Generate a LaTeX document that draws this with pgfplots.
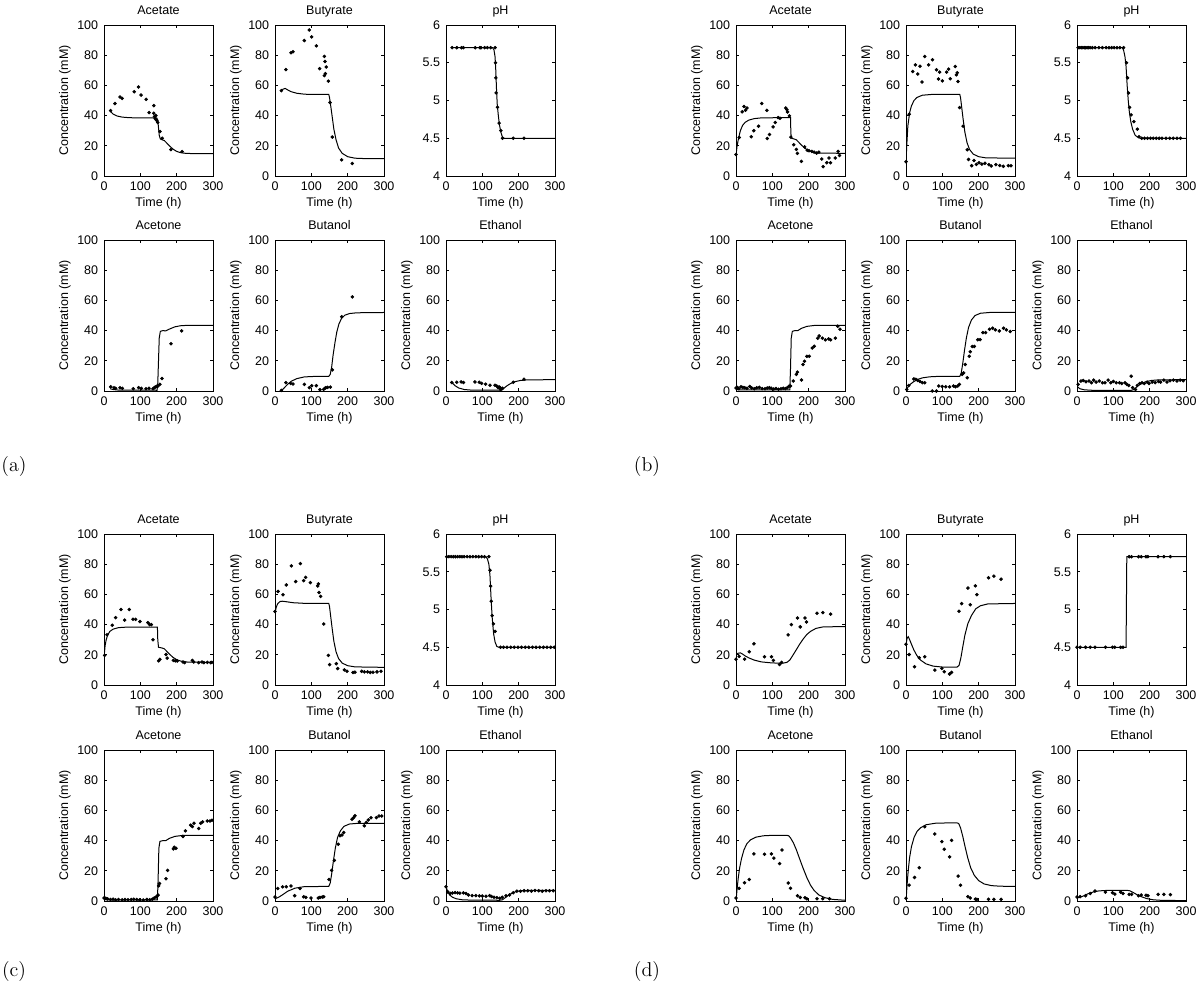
\documentclass[border=0pt]{standalone}
\usepackage{fontspec}
\usepackage{pgfplots}
\pgfplotsset{compat=1.18}
\newfontfamily\helv{Liberation Sans}
\newcommand{\lab}{\helv\fontsize{7.5}{9}\selectfont}

\pgfplotsset{
  panel/.style={scale only axis, width=65.4pt, height=90.6pt, anchor=south west,
    xmin=0, xmax=300, ymin=0, ymax=100,
    xtick={0,100,200,300}, ytick={0,20,40,60,80,100},
    tick align=inside, tick pos=both, major tick length=2pt,
    axis line style={line width=0.5pt}, tick style={line width=0.4pt, black},
    /pgf/number format/assume math mode=true,
    every tick label/.append style={font=\lab},
    title style={font=\lab, anchor=base, yshift=0.5pt, inner sep=0pt},
    label style={font=\lab},
    xlabel={Time (h)}, xlabel style={yshift=3pt},
    ylabel style={yshift=-3pt}},
  conc/.style={ylabel={Concentration (mM)}},
  ph/.style={ymin=4, ymax=6, ytick={4,4.5,5,5.5,6}},
  pos/.style 2 args={at={({#1*0.6pt},{-#2*0.6pt})}},
  model/.style={black, line width=0.6pt, no markers},
  data/.style={black, only marks, mark=*, mark size=0.85pt},
}

\begin{document}
\begin{tikzpicture}
\useasboundingbox (0,0) rectangle (720pt,-597pt);

% ---------------- (a) ----------------
\begin{axis}[panel, conc, pos={104}{176}, title={Acetate}]
\addplot[model] coordinates {(17,43) (25,41) (35,39.8) (50,39) (70,38.6) (100,38.5) (145,38.5) (148,37) (150,32) (152,27) (155,24.5) (160,24) (166,23.5) (172,22) (180,20) (190,17.8) (200,16.3) (210,15.5) (225,15) (250,14.8) (300,14.8)};
\addplot[data] coordinates {(18,43.3) (30,48) (44,52.3) (50,51.4) (83,55.8) (95,58.9) (102,53.6) (116,50.8) (124,42) (137,46.6) (137,41.6) (139,39.4) (141,38) (143,40) (145,36.8) (148,35.4) (154,29.5) (160,25) (184,17.5) (215,16.2)};
\end{axis}
\begin{axis}[panel, conc, pos={275}{176}, title={Butyrate}]
\addplot[model] coordinates {(17,56) (22,57.5) (28,58) (35,57) (45,55.8) (60,54.8) (80,54.2) (100,54) (148,54) (150,52) (153,47) (157,40) (162,31) (168,24) (175,18.5) (185,15) (200,12.8) (220,11.8) (250,11.5) (300,11.5)};
\addplot[data] coordinates {(17.4,56.5) (30,70.5) (44,81.6) (49.5,82.3) (80.7,89.7) (94.5,96.7) (100.9,92.1) (113.8,86.2) (123,71.1) (135.8,79.2) (137.6,75.9) (141,72.2) (138.5,67.8) (135.8,66.5) (146.8,62.8) (151.4,48.6) (157.8,25.8) (183.5,10.7) (212.8,8.3)};
\end{axis}
\begin{axis}[panel, ph, pos={446}{176}, title={pH}]
\addplot[model] coordinates {(17,5.7) (128,5.7) (132,5.67) (135,5.58) (137,5.4) (139,5.15) (141,4.95) (144,4.8) (147,4.68) (151,4.58) (155,4.52) (160,4.5) (300,4.5)};
\addplot[data] coordinates {(16.7,5.7) (29.6,5.7) (42.6,5.7) (48,5.7) (80.5,5.7) (93.5,5.7) (96.3,5.7) (106.5,5.7) (113.9,5.7) (123,5.7) (135,5.7) (136,5.5) (137,5.3) (138,5.1) (141.7,4.91) (146.3,4.7) (151,4.6) (155.6,4.5) (185,4.5) (214.8,4.5)};
\end{axis}
\begin{axis}[panel, conc, pos={104}{391}, title={Acetone}]
\addplot[model] coordinates {(17,1.5) (25,1) (40,0.6) (146,0.5) (148,5) (150,20) (152,35) (155,39.5) (162,40) (170,39.8) (180,41) (195,42.5) (210,43.2) (230,43.5) (300,43.5)};
\addplot[data] coordinates {(18.3,2.8) (27.5,2.2) (32,1.8) (44,2.2) (50.5,1.8) (80.7,1.5) (95.4,2.2) (102.8,1.8) (115.6,1.5) (124,1.8) (135,1.5) (138.5,2.2) (141,2.6) (145,3.1) (148.6,3.3) (154,4.4) (159.6,8.3) (184.4,31.3) (213.8,39.8)};
\end{axis}
\begin{axis}[panel, conc, pos={275}{391}, title={Butanol}]
\addplot[model] coordinates {(17,0) (25,2) (35,4.5) (45,6.5) (60,8.2) (80,9.3) (100,9.6) (148,9.7) (152,11) (156,16) (160,24) (165,32) (170,39) (176,44.5) (183,48) (192,50.2) (205,51.3) (225,51.8) (300,52)};
\addplot[data] coordinates {(17.4,0.4) (30,5.5) (43,5) (49.5,4.6) (80.7,4.4) (94.5,2.2) (100.9,3.5) (113.8,3.5) (123.8,0.9) (134,1.1) (137.6,1.8) (140,2.2) (144.8,2.4) (152.2,2.6) (157.8,14) (183.5,49.2) (212.8,62.3)};
\end{axis}
\begin{axis}[panel, conc, pos={446}{391}, title={Ethanol}]
\addplot[model] coordinates {(17,5.5) (25,3.5) (35,2) (50,1) (70,0.6) (150,0.5) (155,0.8) (160,2) (168,3.5) (178,5) (190,6.2) (205,7) (225,7.4) (300,7.5)};
\addplot[data] coordinates {(16,5.6) (29.6,5.8) (41.7,6) (48,5.6) (79.6,6) (91.7,5.8) (98,5.1) (109,4.5) (121,3.8) (135,3.8) (139.8,3.3) (143.5,2.2) (146,2.7) (149,2.2) (151,1.1) (155.6,1.8) (185,5.8) (214.8,7.8)};
\end{axis}

% ---------------- (b) ----------------
\begin{axis}[panel, conc, pos={736}{176}, title={Acetate}]
\addplot[model] coordinates {(0,14) (3,20) (7,25) (12,30) (18,33.5) (25,35.5) (35,37) (50,38) (70,38.5) (150,38.7) (151,28) (153,25) (160,24.5) (166,24) (172,22.5) (180,20.5) (190,18.3) (200,16.8) (212,15.8) (230,15.2) (300,15)};
\addplot[data] coordinates {(0,14.3) (8.6,25.5) (17,42.5) (22,46) (26,43.5) (30,45) (42,26) (49,30) (62,33) (71,48) (85,43.5) (86,24.8) (92,27.5) (102,32.5) (108,35.4) (116,38.7) (121,38.2) (137,45) (140,44) (142,42.4) (147,39.8) (151,25.7) (159,20.7) (166,17.6) (169,15) (180,9.7) (189,19.3) (196,17.1) (201,16.7) (209,16.3) (215,15.8) (222,15.2) (228,15.8) (236,11.2) (240,6.2) (250,8.8) (256,11.9) (260,8.8) (273,11.9) (281,16.3) (285,13.6)};
\end{axis}
\begin{axis}[panel, conc, pos={906}{176}, title={Butyrate}]
\addplot[model] coordinates {(0,9) (2,20) (5,33) (10,42) (15,46.5) (22,50) (30,52) (45,53.5) (70,54) (148,54) (150,52) (153,46) (157,38) (162,29) (168,22) (175,17.5) (185,14.5) (200,12.8) (220,12) (300,11.8)};
\addplot[data] coordinates {(0,9.5) (8.6,40.9) (18.3,69.2) (25.8,73.6) (32.3,67.5) (38.7,72.7) (44,62.2) (51.6,79.1) (62.4,73.6) (73,77) (83.9,70.3) (89.3,64.2) (92.5,68.8) (100,63) (111.8,68.8) (117.2,70.8) (121.5,64.4) (135.5,72.5) (138.7,67) (141,68.4) (143,62.6) (147.3,45.3) (157,33) (168.8,17.4) (172,11) (180.6,6.8) (187,10.3) (193.5,7.7) (201,8.8) (208.6,7.9) (217.2,8.4) (228,7.5) (234.4,6.6) (247.3,7.5) (258,7) (267.7,6.4) (281.7,6.8) (289,6.8)};
\end{axis}
\begin{axis}[panel, ph, pos={1077}{176}, title={pH}]
\addplot[model] coordinates {(0,5.7) (124,5.7) (128,5.67) (132,5.58) (135,5.45) (138,5.2) (141,5.0) (144,4.85) (148,4.72) (153,4.62) (160,4.54) (168,4.51) (175,4.5) (300,4.5)};
\addplot[data] coordinates {(3,5.7) (8,5.7) (12,5.7) (16,5.7) (20,5.7) (24,5.7) (28,5.7) (32,5.7) (36,5.7) (42,5.7) (50,5.7) (60,5.7) (70,5.7) (80,5.7) (88,5.7) (95,5.7) (102,5.7) (110,5.7) (118,5.7) (128,5.7) (136,5.5) (139,5.3) (141.5,5.1) (144.7,4.91) (149,4.81) (156.5,4.72) (166,4.62) (170.4,4.52) (178,4.5) (186,4.5) (194,4.5) (202,4.5) (210,4.5) (218,4.5) (226,4.5) (234,4.5) (245,4.5) (255,4.5) (265,4.5) (275,4.5) (285,4.5)};
\end{axis}
\begin{axis}[panel, conc, pos={736}{391}, title={Acetone}]
\addplot[model] coordinates {(0,1) (10,0.7) (148,0.7) (150,15) (152,35) (155,39.5) (162,40) (170,40) (180,41.5) (195,42.8) (215,43.4) (300,43.5)};
\addplot[data] coordinates {(0,2) (4,2.3) (8,1.6) (14,2.8) (19,2.4) (24,2.2) (30,1.8) (38,3) (43,2) (50,1.5) (57,2.2) (64,2.4) (72,1.6) (80,1.5) (86,2) (92,2.2) (97,1.8) (104,1.3) (110,1.6) (117,1.2) (124,1.5) (130,1.8) (136,1.6) (141,2.2) (146,3.2) (150,3.3) (157.7,6.6) (166,11) (169,12.5) (180,7.3) (184.4,17.5) (188.6,19.7) (195,23) (201.5,23) (210,28.5) (215.4,29.6) (225,35) (229,36.5) (237.7,35) (246,33.9) (255,34.5) (260.4,33.9) (273.3,35) (279.7,42.9) (286,40.9)};
\end{axis}
\begin{axis}[panel, conc, pos={906}{391}, title={Butanol}]
\addplot[model] coordinates {(0,0) (5,2.5) (12,4.5) (20,6) (30,7.5) (45,8.7) (65,9.4) (90,9.7) (148,9.7) (152,12) (156,18) (161,27) (166,35) (172,42) (180,47) (190,50) (205,51.5) (230,52) (300,52)};
\addplot[data] coordinates {(2,1) (7.5,3.7) (21.4,8) (27,7.7) (32,7) (38.6,6.3) (45,5.5) (51.5,5.5) (72,0) (83.6,0) (90,3.3) (99.7,3) (109.3,2.8) (120,2.8) (130.8,3.3) (136,2.8) (142.5,3.3) (147,4.4) (154.4,11) (158.8,12) (163,17.5) (168.5,8.8) (173.9,23) (177,26) (182.4,29.5) (188,29.5) (197.5,34) (204,34) (211.6,38.7) (219,38.7) (230,40.9) (238.5,41.6) (246,40.5) (256.7,39.8) (268.5,41.6) (276,40.5) (286.6,39.4)};
\end{axis}
\begin{axis}[panel, conc, pos={1077}{391}, title={Ethanol}]
\addplot[model] coordinates {(0,3) (8,1.5) (20,0.8) (40,0.5) (150,0.5) (155,0.8) (160,1.8) (168,3.5) (178,5) (190,6.2) (205,7) (225,7.4) (300,7.5)};
\addplot[data] coordinates {(3,4.4) (10.7,6.6) (17,7) (24.6,6.1) (33,6.6) (39.6,5.5) (46,7.2) (52.5,5.9) (61,6.6) (70,5.5) (77,5.5) (85.7,7.2) (93,5.5) (100,6.3) (108,5.5) (117,5.5) (123,5) (132,5.5) (137,4.4) (142.5,3.7) (149,9.8) (153,2.2) (160.8,1) (166,3.7) (172.6,5) (179,5.5) (185,5) (193,5.9) (198,5) (207,5.9) (215,5.5) (224,6.3) (230,5.9) (239,7.2) (247.6,5.9) (256,6.8) (265,7.2) (275,6.6) (284,7.2) (292.6,6.8)};
\end{axis}

% ---------------- (c) ----------------
\begin{axis}[panel, conc, pos={104}{685}, title={Acetate}]
\addplot[model] coordinates {(0,18) (3,26) (6,30) (10,33) (16,35.5) (25,37) (40,38) (60,38.3) (147,38.3) (148,30) (150,25) (160,24.5) (166,24) (172,22.5) (180,20.5) (190,18.3) (200,16.8) (212,15.8) (230,15.2) (300,15)};
\addplot[data] coordinates {(1.8,19.6) (8.3,33.3) (22.9,39.6) (32,44.6) (46.8,50) (56.9,43) (69.7,50) (79.8,43.5) (87,43.5) (99,42) (121,41.3) (125.7,40) (130.3,40) (134.9,30) (150.5,16) (154,17) (170.6,20.2) (174,17.8) (190.8,16.3) (196.3,16) (201.8,15.9) (217.4,15.2) (222,14.8) (243,16.3) (247,15.2) (260.6,14.8) (269.7,15.2) (275,14.8) (284.4,15) (293.6,14.8) (297,15)};
\end{axis}
\begin{axis}[panel, conc, pos={275}{685}, title={Butyrate}]
\addplot[model] coordinates {(0,48) (4,52) (8,54) (14,55.3) (20,55.5) (30,55.2) (50,54.5) (80,54.1) (148,54) (150,52) (153,46) (157,38) (162,29) (168,22) (175,17.5) (185,14.5) (200,12.8) (220,12) (300,11.7)};
\addplot[data] coordinates {(0,48.7) (8.3,62) (22,59.8) (31,66.3) (45,78.9) (57,68.5) (69.7,80.4) (78.9,69.1) (84.4,71.3) (97.2,67.8) (117.4,65.6) (119.3,67) (121,61.3) (125.7,58.7) (134,40.4) (146.8,19.6) (150.5,13.5) (168.8,14.1) (172.5,10.9) (190.8,10) (198,9.1) (214.7,8.3) (220,8.5) (238.5,9.1) (245.8,8.7) (255,8.7) (262.4,8.3) (269.7,8.5) (280.7,8.7) (291.7,9.1)};
\end{axis}
\begin{axis}[panel, ph, pos={446}{685}, title={pH}]
\addplot[model] coordinates {(0,5.7) (110,5.7) (114,5.67) (118,5.6) (121,5.45) (124,5.15) (127,4.9) (131,4.68) (135,4.57) (140,4.51) (146,4.5) (300,4.5)};
\addplot[data] coordinates {(2,5.7) (8,5.7) (14,5.7) (20,5.7) (26,5.7) (32,5.7) (38,5.7) (44,5.7) (50,5.7) (58,5.7) (66,5.7) (74,5.7) (82,5.7) (90,5.7) (98,5.7) (106,5.7) (118,5.7) (121,5.52) (123,5.31) (124.5,5.11) (127,4.92) (130.5,4.81) (135,4.71) (150,4.5) (158,4.5) (168,4.5) (178,4.5) (188,4.5) (198,4.5) (208,4.5) (218,4.5) (228,4.5) (238,4.5) (248,4.5) (258,4.5) (268,4.5) (278,4.5) (288,4.5) (298,4.5)};
\end{axis}
\begin{axis}[panel, conc, pos={104}{901}, title={Acetone}]
\addplot[model] coordinates {(0,1) (10,0.7) (147,0.7) (149,15) (151,35) (154,39.5) (162,40) (170,40) (180,41.5) (195,42.8) (215,43.4) (300,43.5)};
\addplot[data] coordinates {(0,2) (5,1.8) (10,1.4) (18,1) (25,1.2) (32,0.8) (40,1) (50,0.8) (58,1) (66,0.8) (75,1) (82,1.2) (90,1) (98,0.8) (108,0.6) (118,1) (126,0.8) (133,1.2) (138,2) (144,2.8) (148.6,3.9) (150.5,10) (153,11.6) (170.6,14.8) (175,20.3) (190.8,34.5) (193.6,35.6) (198,34.9) (217.4,42.8) (224,46.5) (238.5,50.2) (243,49.3) (247.7,51.5) (260.6,48) (266,51.5) (271.6,52.4) (284.4,53) (291.7,53) (297,53.5)};
\end{axis}
\begin{axis}[panel, conc, pos={275}{901}, title={Butanol}]
\addplot[model] coordinates {(0,1.5) (10,2.5) (20,4) (35,6.5) (55,8.5) (80,9.5) (148,9.7) (152,12) (156,18) (161,27) (166,35) (172,42) (180,46.5) (190,49.5) (205,51) (230,51.5) (300,51.5)};
\addplot[data] coordinates {(0,2.6) (7.3,8.3) (21,9.4) (31,9.4) (44,10) (54,3.5) (68.8,8.3) (78.9,2.8) (85,2.4) (99,2) (119,2) (123.8,2.4) (130,2.6) (134,2.8) (148.6,14.2) (156,20.3) (163.3,26.9) (174.3,37.6) (178.9,43.2) (184.4,43.7) (189,45.4) (211.9,54.1) (216.5,55.2) (220,56.5) (232,52.4) (245.8,49.8) (251,52) (256.8,53.7) (264.2,55.2) (278.9,55.2) (286,56.3) (293.6,56.3)};
\end{axis}
\begin{axis}[panel, conc, pos={446}{901}, title={Ethanol}]
\addplot[model] coordinates {(0,10) (4,6.5) (10,4) (18,2.5) (28,1.5) (45,0.8) (70,0.6) (148,0.5) (155,0.8) (162,2) (170,3.5) (180,5) (192,6.2) (205,6.8) (230,7) (300,7)};
\addplot[data] coordinates {(0,9.5) (5,6) (12,5) (18,5.3) (25,5.6) (32,5.4) (38,5.2) (48,5.4) (55,5) (62,4) (72,3.6) (82,3.6) (92,3.4) (100,3.3) (110,3.2) (120,3.6) (125,3) (132,2.5) (140,2.2) (148,1.8) (155,2.5) (165,3.5) (175,4) (185,5.5) (195,6.5) (205,6.5) (215,6.8) (225,6.8) (235,6.5) (245,7) (255,6.8) (265,6.5) (275,6.8) (285,6.8) (295,6.8)};
\end{axis}

% ---------------- (d) ----------------
\begin{axis}[panel, conc, pos={736}{685}, title={Acetate}]
\addplot[model] coordinates {(0,20) (5,21) (12,21.3) (18,20.5) (25,19.3) (35,18) (50,16.5) (70,15.3) (100,14.6) (130,14.5) (140,15) (148,16.5) (156,19.5) (165,23) (175,27) (185,30.5) (195,33.5) (205,35.5) (220,37.5) (240,38.5) (300,38.7)};
\addplot[data] coordinates {(0,17.1) (8.6,19) (23.6,17.1) (36.4,22) (49.3,27.3) (78.2,18.7) (97.5,18.7) (102.9,16.3) (120,13.6) (125.4,15) (143.6,33.2) (152.2,40) (169.3,44.4) (176.8,38.5) (189.7,44.4) (194,41.8) (223,47.5) (239,48) (260.4,47)};
\end{axis}
\begin{axis}[panel, conc, pos={906}{685}, title={Butyrate}]
\addplot[model] coordinates {(0,27) (3,31) (6,32) (10,30) (15,27) (22,23) (30,19.5) (40,16.5) (55,14) (75,12.5) (100,11.9) (140,11.8) (146,13) (151,18) (156,25) (162,33) (170,40.5) (180,46) (192,50.5) (205,52.5) (225,53.7) (300,54)};
\addplot[data] coordinates {(0,27) (8.6,20.2) (23.6,12.1) (36.4,18) (51.5,18.7) (79.3,9.9) (98.6,11) (105,8.8) (120,7.3) (125.4,8.4) (145.8,48.8) (153.3,53.9) (170.4,64.2) (176.8,53.2) (190.8,65.7) (195,59.8) (227.2,71) (242,72.1) (261.5,70.1)};
\end{axis}
\begin{axis}[panel, ph, pos={1077}{685}, title={pH}]
\addplot[model] coordinates {(0,4.5) (135,4.5) (137,5.7) (300,5.7)};
\addplot[data] coordinates {(0,4.5) (8.6,4.5) (23.6,4.5) (36.4,4.5) (49.3,4.5) (78.2,4.5) (97.5,4.5) (104,4.5) (120,4.5) (126.5,4.5) (143.6,5.7) (150,5.7) (169.3,5.7) (176.8,5.7) (189.7,5.7) (195,5.7) (223,5.7) (239,5.7) (257,5.7)};
\end{axis}
\begin{axis}[panel, conc, pos={736}{901}, title={Acetone}]
\addplot[model] coordinates {(0,0) (3,8) (6,15) (10,22) (15,28) (22,34) (30,38) (40,40.5) (55,42.3) (75,43.2) (100,43.5) (140,43.5) (145,43.2) (150,41.8) (158,38.5) (166,34) (175,28) (185,21.5) (195,15.5) (205,10.5) (215,7) (228,4) (245,2.2) (265,1.1) (300,0.5)};
\addplot[data] coordinates {(0,2) (8.6,8.4) (23.6,12.1) (36.4,14.3) (49.3,31.2) (78.2,31) (97.5,31.2) (104,28.4) (120,24.8) (126.5,33.8) (143.6,11.9) (150,8.4) (169.3,3.5) (176.8,2.4) (189.7,2.2) (195,1.5) (223,1.5) (239,1.5) (257,1.5)};
\end{axis}
\begin{axis}[panel, conc, pos={906}{901}, title={Butanol}]
\addplot[model] coordinates {(0,0) (3,11) (6,20) (10,29) (15,36) (22,42) (30,46) (40,48.5) (55,50.5) (80,51.5) (110,51.7) (140,51.8) (145,51.3) (150,48.5) (156,43) (163,35.5) (170,28.5) (178,22) (188,17) (200,13.5) (215,11.3) (235,10.2) (260,9.8) (300,9.7)};
\addplot[data] coordinates {(0,1.8) (8.6,10.5) (23.6,15.6) (36.4,22) (51.5,49.2) (79.3,44.4) (98.6,39.3) (105,34.3) (120,29.2) (125.4,40.2) (143.6,16.5) (150,10.5) (170.4,2.9) (176.8,2) (190.8,1.3) (195,1.1) (227,1.1) (242,1.1) (261.5,1.1)};
\end{axis}
\begin{axis}[panel, conc, pos={1077}{901}, title={Ethanol}]
\addplot[model] coordinates {(0,2) (10,2.6) (20,3.6) (30,4.8) (45,6) (60,6.7) (80,7) (140,7) (145,6.8) (155,5.6) (165,4.2) (178,2.8) (192,1.6) (210,0.8) (235,0.4) (300,0.3)};
\addplot[data] coordinates {(0,2.6) (8.6,2.9) (23.6,3.5) (36.4,5) (49.3,6.6) (78.2,5.9) (97.5,5.5) (104,4.6) (120,5.9) (126.5,5) (143.6,4.4) (150,4.4) (169.3,3.5) (176.8,4) (189.7,3.8) (195,3.5) (223,4.4) (239,4.4) (257,4.2)};
\end{axis}

% panel letters
\node at ({14*0.6pt},{-466*0.6pt}) {\fontsize{12}{14}\selectfont (a)};
\node at ({647*0.6pt},{-466*0.6pt}) {\fontsize{12}{14}\selectfont (b)};
\node at ({14*0.6pt},{-971*0.6pt}) {\fontsize{12}{14}\selectfont (c)};
\node at ({647*0.6pt},{-971*0.6pt}) {\fontsize{12}{14}\selectfont (d)};
\end{tikzpicture}
\end{document}
